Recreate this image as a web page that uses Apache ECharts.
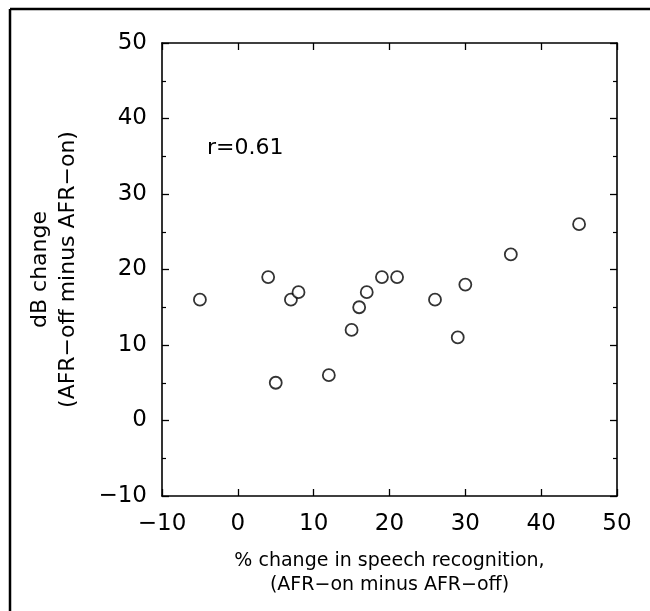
<!DOCTYPE html>
<html>
<head>
<meta charset="utf-8">
<script src="https://cdn.jsdelivr.net/npm/echarts@6/dist/echarts.min.js"></script>
<style>html,body{margin:0;padding:0;background:#fff;}#c{width:650px;height:611px;}</style>
</head>
<body>
<div id="c"></div>
<script>
// Data
var xValues = [-5, 4, 5, 7, 8, 12, 15, 16, 17, 19, 21, 26, 29, 30, 36, 45];
var yValues = [16, 19, 5, 16, 17, 6, 12, 15, 17, 19, 19, 16, 11, 18, 22, 26];
var xTicks = [-10, 0, 10, 20, 30, 40, 50];
var yTicks = [-10, 0, 10, 20, 30, 40, 50];
var xTitle = ['% change in speech recognition,', '(AFR\u2212on minus AFR\u2212off)'];
var yTitle = ['dB change', '(AFR\u2212off minus AFR\u2212on)'];
var annotation = 'r=0.61';

var points = xValues.map(function (x, i) { return [x, yValues[i]]; });
var FONT = 'DejaVu Sans';
function fmt(v) { return String(v).replace('-', '\u2212'); }

var chart = echarts.init(document.getElementById('c'));
var axisLine = { show: true, onZero: false, lineStyle: { color: '#000', width: 1.6 } };
var majorTick = { show: true, inside: true, length: 7, lineStyle: { color: '#000', width: 1.3 } };
var minorTick = { show: true, splitNumber: 2, length: 4, lineStyle: { color: '#000', width: 1.2 } };
var labelStyle = { color: '#000', fontFamily: FONT, fontSize: 23 };

chart.setOption({
  animation: false,
  backgroundColor: '#fff',
  grid: { left: 162, right: 33, top: 43, bottom: 115 },
  xAxis: [{
    type: 'value', position: 'bottom',
    min: xTicks[0], max: xTicks[xTicks.length - 1], interval: 10,
    axisLine: axisLine, axisTick: majorTick, splitLine: { show: false },
    axisLabel: Object.assign({ margin: 17, formatter: fmt }, labelStyle),
    name: xTitle.join('\n'), nameLocation: 'middle', nameGap: 53,
    nameTextStyle: { color: '#000', fontFamily: FONT, fontSize: 19, lineHeight: 24 }
  }, {
    type: 'value', position: 'top',
    min: xTicks[0], max: xTicks[xTicks.length - 1], interval: 10,
    axisLine: axisLine, axisTick: majorTick, splitLine: { show: false },
    axisLabel: { show: false }
  }],
  yAxis: [{
    type: 'value', position: 'left',
    min: yTicks[0], max: yTicks[yTicks.length - 1], interval: 10,
    axisLine: axisLine, axisTick: majorTick, minorTick: minorTick, splitLine: { show: false },
    axisLabel: Object.assign({ margin: 15, formatter: fmt }, labelStyle),
    name: yTitle.join('\n'), nameLocation: 'middle', nameGap: 80, nameRotate: 90,
    nameTextStyle: { color: '#000', fontFamily: FONT, fontSize: 22, lineHeight: 28 }
  }, {
    type: 'value', position: 'right',
    min: yTicks[0], max: yTicks[yTicks.length - 1], interval: 10,
    axisLine: axisLine, axisTick: majorTick, minorTick: minorTick, splitLine: { show: false },
    axisLabel: { show: false }
  }],
  graphic: [
    { type: 'line', shape: { x1: 10, y1: 9, x2: 650, y2: 9 }, style: { stroke: '#000', lineWidth: 2.5 } },
    { type: 'line', shape: { x1: 10, y1: 9, x2: 10, y2: 611 }, style: { stroke: '#000', lineWidth: 2.5 } },
    { type: 'text', left: 207, top: 137, style: { text: annotation, fill: '#000', font: '22px "' + FONT + '"' } }
  ],
  series: [{
    type: 'scatter', xAxisIndex: 0, yAxisIndex: 0,
    data: points, symbol: 'circle', symbolSize: 12,
    itemStyle: { color: '#fff', borderColor: '#000', borderWidth: 1.8 }
  }]
});
</script>
</body>
</html>
